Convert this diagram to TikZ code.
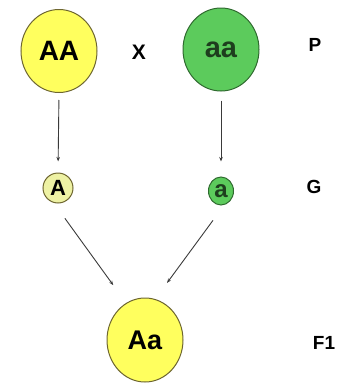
\documentclass[tikz,border=0pt]{standalone}
\usepackage{fontspec}
\setmainfont{Liberation Sans}
\usetikzlibrary{arrows.meta,shapes.geometric}
\definecolor{yfill}{HTML}{FFFF5E}
\definecolor{yline}{HTML}{6E6630}
\definecolor{gfill}{HTML}{5CCB5C}
\definecolor{gline}{HTML}{2F6A2F}
\definecolor{ayfill}{HTML}{EEF2A4}
\definecolor{gtext}{HTML}{1E3E1E}
\definecolor{arrcol}{HTML}{3A3A3A}
\tikzset{
  big/.style={ellipse, draw, line width=1pt, minimum width=76pt, minimum height=83pt, inner sep=0pt},
  small/.style={ellipse, draw, line width=1pt, inner sep=0pt},
  lab/.style={font=\fontsize{19}{19}\selectfont\bfseries, inner sep=0pt},
  arr/.style={draw=arrcol, line width=0.9pt, -{Stealth[length=4.5pt,width=3.5pt]}}
}
\begin{document}
\begin{tikzpicture}[x=1pt,y=-1pt]
\useasboundingbox (0,0) rectangle (337,383);
\node[big, fill=yfill, draw=yline] (AA) at (59,51) {\fontsize{28}{28}\selectfont\bfseries AA};
\node[big, fill=gfill, draw=gline] (aa) at (221,49.5) {\color{gtext}\fontsize{29}{29}\selectfont\bfseries aa};
\node[lab, font=\fontsize{21}{21}\selectfont\bfseries] (x) at (139,52) {X};
\node[lab] (P) at (315,45) {P};
\node[small, fill=ayfill, draw=yline, minimum width=30pt, minimum height=30pt] (A) at (58,188) {\fontsize{22}{22}\selectfont\bfseries A};
\node[small, fill=gfill, draw=gline, minimum width=25pt, minimum height=28pt] (a) at (221,191) {\color{gtext}\fontsize{24}{24}\selectfont\bfseries a};
\node[lab] (G) at (314,187) {G};
\node[big, fill=yfill, draw=yline, minimum height=84pt] (Aa) at (145,340) {\fontsize{27}{27}\selectfont\bfseries Aa};
\node[lab] (F1) at (324,343) {F1};
\draw[arr, shorten <=7pt, shorten >=11pt] (AA.south) -- (A.north);
\draw[arr, shorten <=9pt, shorten >=15pt] (aa.south) -- (a.north);
\draw[arr, shorten <=19pt, shorten >=22pt] (A.-106) -- (Aa.117);
\draw[arr, shorten <=19pt, shorten >=20pt] (a.-77) -- (Aa.76);
\end{tikzpicture}
\end{document}
